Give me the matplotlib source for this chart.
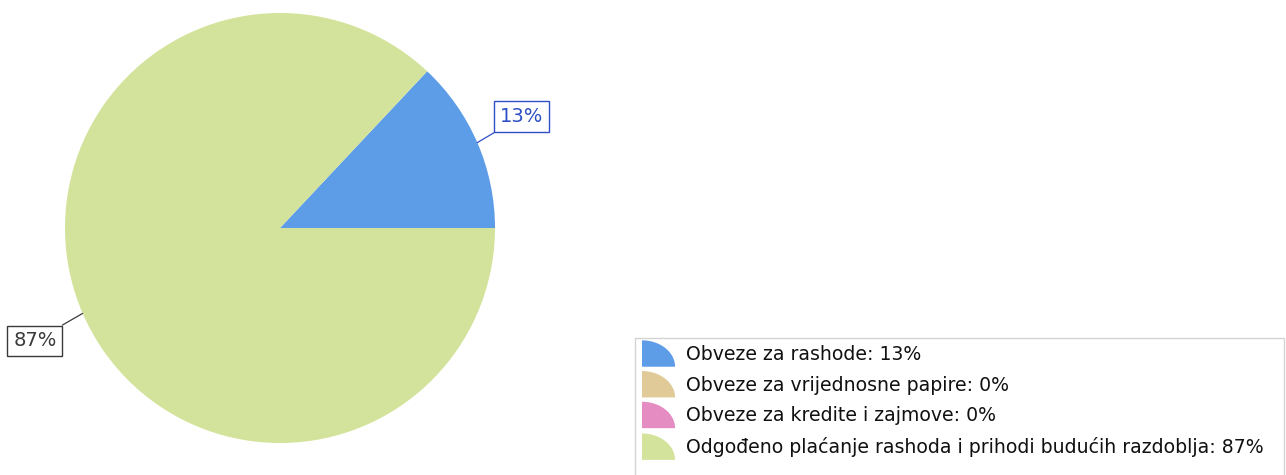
import numpy as np
import matplotlib
matplotlib.use("Agg")
import matplotlib.pyplot as plt
from matplotlib.patches import Polygon, Rectangle
from matplotlib.legend_handler import HandlerBase

categories = ["Obveze za rashode", "Obveze za vrijednosne papire",
              "Obveze za kredite i zajmove",
              "Odgođeno plaćanje rashoda i prihodi budućih razdoblja"]
values = [13, 0, 0, 87]
colors = ["#5d9de8", "#dfca98", "#e58cc3", "#d4e39c"]
label_colors = ["#2f4fc6", None, None, "#3a3a3a"]

fig = plt.figure(figsize=(12.86, 4.75), dpi=100)
ax = fig.add_axes([65/1286, 1 - 443/475, 430/1286, 430/475])
wedges, _ = ax.pie(values, colors=colors, startangle=0, counterclock=True,
                   wedgeprops=dict(linewidth=0))
ax.set_aspect("equal")
ax.set_xlim(-1, 1)
ax.set_ylim(-1, 1)

# percentage callouts (box centres in data units)
offsets = {0: (1.125, 0.52), 3: (-1.14, -0.525)}
for i, w in enumerate(wedges):
    if values[i] == 0:
        continue
    ang = np.deg2rad((w.theta1 + w.theta2) / 2)
    xy = (np.cos(ang), np.sin(ang))
    tx, ty = offsets[i]
    ax.annotate(f"{values[i]}%", xy=xy, xytext=(tx, ty), textcoords="data",
                ha="center", va="center", fontsize=14, color=label_colors[i],
                family="DejaVu Sans", annotation_clip=False,
                bbox=dict(boxstyle="square,pad=0.3", fc="white",
                          ec=label_colors[i], lw=1),
                arrowprops=dict(arrowstyle="-", color=label_colors[i], lw=0.9,
                                shrinkA=0, shrinkB=0))


class QuarterHandler(HandlerBase):
    def create_artists(self, legend, orig_handle, xdescent, ydescent,
                       width, height, fontsize, trans):
        w = width
        h = 19.0
        cy = -ydescent + height / 2
        x0 = -xdescent
        y0 = cy - h / 2
        t = np.linspace(0, np.pi / 2, 40)
        pts = [(x0, y0)] + [(x0 + w * np.cos(a), y0 + h * np.sin(a)) for a in t]
        p = Polygon(pts, closed=True, facecolor=orig_handle.get_facecolor(),
                    edgecolor="none", transform=trans)
        return [p]


handles = [Rectangle((0, 0), 1, 1, facecolor=c) for c in colors]
labels = [f"{c}: {v}%" for c, v in zip(categories, values)]

# legend frame
frame = Rectangle((635/1286, -0.05), (1284 - 635)/1286, (475 - 338)/475 + 0.05,
                  transform=fig.transFigure, fill=False, ec="#d4d4d4", lw=1)
fig.add_artist(frame)

leg = fig.legend(handles, labels, loc="upper left",
                 bbox_to_anchor=(642/1286, 1 - 345/475), frameon=False,
                 handler_map={Rectangle: QuarterHandler()},
                 handlelength=1.75, handleheight=1.0,
                 handletextpad=0.58, labelspacing=0.62, borderaxespad=0,
                 borderpad=0,
                 prop=dict(family="DejaVu Sans", size=13.6))
for t in leg.get_texts():
    t.set_color("#111111")

fig.savefig("out.png", dpi=100)
